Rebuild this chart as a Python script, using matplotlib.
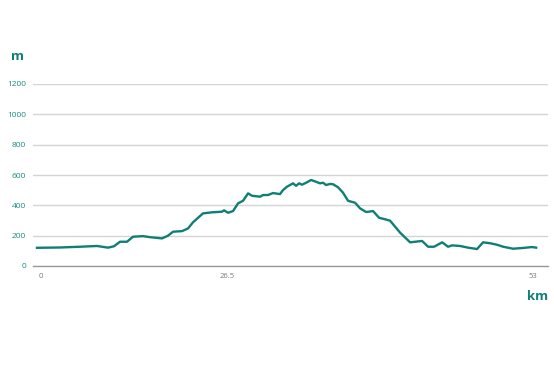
import numpy as np
import matplotlib
matplotlib.use("Agg")
import matplotlib.pyplot as plt

# Elevation profile data:
km = [-0.43, 2.05, 4.20, 6.03, 7.22, 7.86, 8.51, 9.26, 9.91, 10.99, 11.74, 13.03, 13.68,
      14.22, 15.19, 15.84, 16.37, 17.45, 18.42, 19.50, 19.71, 20.14, 20.68, 21.22, 21.76,
      22.30, 22.73, 23.59, 23.91, 24.45, 24.99, 25.74, 26.07, 26.50, 27.14, 27.47, 27.79,
      28.11, 28.65, 29.08, 29.51, 30.05, 30.38, 30.70, 31.13, 31.45, 31.99, 32.53, 33.07,
      33.83, 34.36, 35.01, 35.76, 36.41, 37.06, 37.59, 38.67, 39.75, 40.29, 41.04, 41.69,
      42.33, 43.20, 43.84, 44.27, 45.13, 45.99, 46.96, 47.61, 48.37, 49.12, 49.77, 50.84,
      51.92, 52.89, 53.32]
elev = [120, 122, 127, 132, 121, 130, 160, 160, 193, 197, 190, 182, 200,
        226, 230, 248, 288, 347, 354, 358, 367, 351, 362, 413, 430,
        479, 463, 457, 468, 468, 481, 474, 501, 523, 545, 529, 545,
        536, 552, 567, 558, 545, 549, 534, 541, 539, 519, 483, 430,
        417, 380, 356, 362, 318, 308, 299, 220, 156, 160, 165, 127,
        127, 156, 127, 136, 132, 121, 112, 156, 150, 140, 127, 114,
        119, 125, 121]

# Axis ticks:
y_ticks = [0, 200, 400, 600, 800, 1000, 1200]
x_tick_pos = [0, 20.04, 53]
x_tick_labels = ['0', '26.5', '53']

Color_line = "#0f7f75"
Color_text = "#1a8a80"

fig = plt.figure(figsize=(5.54, 3.69), dpi=100)
ax = fig.add_axes([33/554, 1-266/369, 515/554, 182/369])

ax.plot(km, elev, color=Color_line, lw=1.7, solid_joinstyle='round')
ax.set_xlim(-0.86, 54.6)
ax.set_ylim(0, 1200)

ax.set_yticks(y_ticks)
ax.set_yticklabels([str(v) for v in y_ticks], color=Color_text, fontsize=6,
                   fontfamily='Open Sans', fontweight='medium')
ax.set_xticks(x_tick_pos)
ax.set_xticklabels(x_tick_labels, color='#777777', fontsize=5.5, fontfamily='Open Sans')
ax.tick_params(length=0, pad=5)

ax.grid(axis='y', color='#d4d4d4', lw=1)
ax.set_axisbelow(True)
for side in ['top', 'right', 'left']:
    ax.spines[side].set_visible(False)
ax.spines['bottom'].set_color('#999999')
ax.spines['bottom'].set_linewidth(1)
ax.spines['bottom'].set_zorder(0.5)

fig.text(18/554, 1-56/369, 'm', color=Color_line, fontsize=9.5, fontweight='bold',
         ha='center', va='center', fontfamily='Open Sans')
fig.text(538/554, 1-296/369, 'km', color=Color_line, fontsize=9.5, fontweight='bold',
         ha='center', va='center', fontfamily='Open Sans')

fig.savefig('out.png', dpi=100)
